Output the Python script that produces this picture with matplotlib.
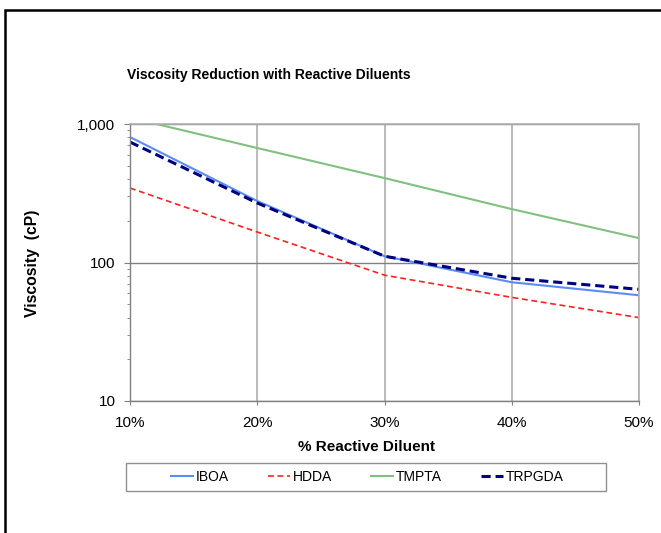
import matplotlib
matplotlib.use("Agg")
import matplotlib.pyplot as plt
from matplotlib.patches import Rectangle
from matplotlib.ticker import FixedLocator, FuncFormatter, LogLocator, NullFormatter

plt.rcParams['font.family'] = ['Liberation Sans', 'DejaVu Sans']

diluent_pct = [10, 20, 30, 40, 50]
iboa = [805, 278, 111, 72, 58]
hdda = [345, 166, 81, 56, 40]
tmpta = [1110, 671, 407, 243, 150]
trpgda = [741, 269, 111, 77, 64]

series_names = ["IBOA", "HDDA", "TMPTA", "TRPGDA"]
x_ticks = [10, 20, 30, 40, 50]
y_ticks = [10, 100, 1000]

W, H = 661, 533
fig = plt.figure(figsize=(W / 100, H / 100), dpi=100)

def fx(px):
    return px / W

def fy(py):
    return 1 - py / H

# outer chart border (cropped at right/bottom)
fig.patches.append(Rectangle((fx(5), fy(600)), fx(700), fy(10) - fy(600),
                             transform=fig.transFigure, fill=False,
                             edgecolor='black', linewidth=1.8))

ax = fig.add_axes([fx(130), fy(401), fx(639) - fx(130), fy(124) - fy(401)])
ax.set_yscale('log')

l1, = ax.plot(diluent_pct, iboa, color='#5A8CF5', lw=1.5, label=series_names[0])
l2, = ax.plot(diluent_pct, hdda, color='#FF2020', lw=1.2, dashes=(3.5, 2.2), label=series_names[1])
l3, = ax.plot(diluent_pct, tmpta, color='#80C080', lw=1.5, label=series_names[2])
l4, = ax.plot(diluent_pct, trpgda, color='#000080', lw=2.2, dashes=(3.0, 1.6), label=series_names[3])

ax.set_xlim(10, 50)
ax.set_ylim(10, 1000)
ax.xaxis.set_major_locator(FixedLocator(x_ticks))
ax.xaxis.set_major_formatter(FuncFormatter(lambda v, p: f"{int(v)}%"))
ax.yaxis.set_major_locator(FixedLocator(y_ticks))
ax.yaxis.set_major_formatter(FuncFormatter(lambda v, p: f"{int(v):,}"))
ax.yaxis.set_minor_locator(LogLocator(base=10, subs=range(2, 10)))
ax.yaxis.set_minor_formatter(NullFormatter())

ax.grid(True, axis='x', which='major', color='#B4B4B4', lw=1.3)
ax.grid(True, axis='y', which='major', color='#808080', lw=1.0)
ax.set_axisbelow(True)

for s in ['top', 'right']:
    ax.spines[s].set_color('#B0B0B0')
    ax.spines[s].set_linewidth(1.2)
for s in ['left', 'bottom']:
    ax.spines[s].set_color('#808080')
    ax.spines[s].set_linewidth(1.0)

ax.tick_params(axis='both', which='major', direction='out', length=4, color='#808080',
               labelsize=11, labelcolor='#000000')
ax.tick_params(axis='y', which='major', pad=6.5)
ax.tick_params(axis='x', which='major', length=3, pad=8)
ax.tick_params(axis='y', which='minor', direction='out', length=2.5, color='#808080')

fig.text(fx(269), fy(75), "Viscosity Reduction with Reactive Diluents",
         ha='center', va='center', fontsize=10, fontweight='bold')
fig.text(fx(366), fy(447), "% Reactive Diluent",
         ha='center', va='center', fontsize=11, fontweight='bold')
fig.text(fx(32), fy(263), "Viscosity  (cP)", rotation=90,
         ha='center', va='center', fontsize=11.3, fontweight='bold')

# legend box
fig.patches.append(Rectangle((fx(126), fy(491)), fx(606) - fx(126), fy(463) - fy(491),
                             transform=fig.transFigure, fill=False,
                             edgecolor='#909090', linewidth=1.0))
leg = fig.legend(handles=[l1, l2, l3, l4], loc='center',
                 bbox_to_anchor=(fx(367), fy(477)), ncol=4, frameon=False,
                 fontsize=10, handlelength=1.6, handletextpad=0.2,
                 columnspacing=2.8, borderpad=0.2)

fig.savefig("out.png", dpi=100)
